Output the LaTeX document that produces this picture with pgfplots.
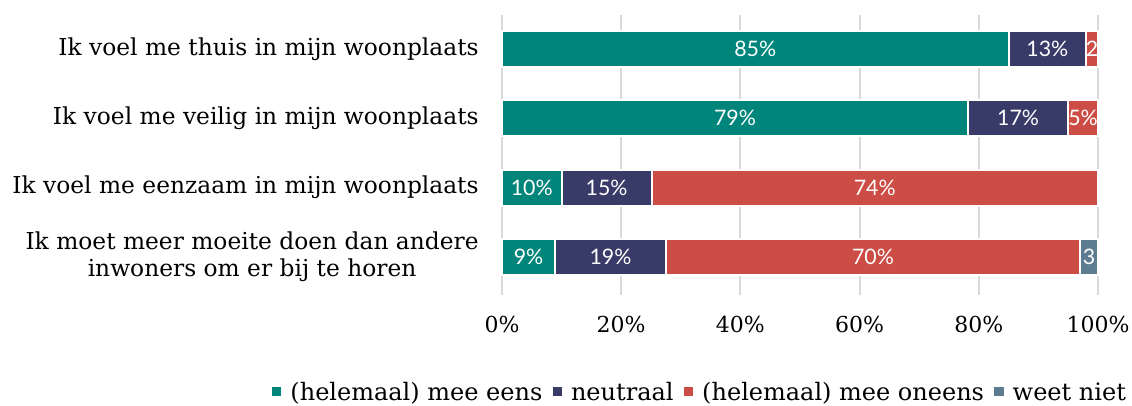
\documentclass[border=0pt]{standalone}
\usepackage{fontspec}
\setmainfont{DejaVu Serif}
\newfontfamily\labelfont{Lato}
\usepackage{pgfplots}
\pgfplotsset{compat=1.18}
\definecolor{cteal}{HTML}{00857A}
\definecolor{cnavy}{HTML}{383B68}
\definecolor{cred}{HTML}{CB4D45}
\definecolor{cslate}{HTML}{5E7C91}
\begin{document}
\begin{tikzpicture}
\useasboundingbox (-376.5pt,-82.5pt) rectangle (472.5pt,221.25pt);
\begin{axis}[
  scale only axis,
  width=447pt, height=210pt,
  xbar stacked,
  bar width=27pt,
  xmin=0, xmax=100,
  ymin=-0.49, ymax=3.55,
  y dir=reverse,
  ytick={0,1,2,3},
  yticklabels={Ik voel me thuis in mijn woonplaats,Ik voel me veilig in mijn woonplaats,Ik voel me eenzaam in mijn woonplaats,{Ik moet meer moeite doen dan andere\\inwoners om er bij te horen}},
  yticklabel style={align=center, font=\fontsize{17.5}{20.5}\selectfont, xshift=-14pt},
  xtick={0,20,40,60,80,100},
  xticklabel={\pgfmathprintnumber{\tick}\%},
  xticklabel style={font=\fontsize{16.5}{19}\selectfont, yshift=-12pt},
  /pgf/number format/assume math mode=true,
  major tick length=0pt,
  axis line style={draw=none},
  xmajorgrids,
  grid style={black!15, line width=1.5pt},
  point meta=explicit symbolic,
  nodes near coords,
  every node near coord/.append style={font=\labelfont\fontsize{16}{18}\selectfont, text=white, anchor=center},
  every axis plot/.append style={draw=white, line width=1.5pt},
  legend columns=4,
  legend style={at={(0.332,0)}, anchor=center, yshift=-73pt, draw=none, font=\fontsize{18}{21}\selectfont,
    /tikz/every even column/.append style={column sep=5pt}},
  legend image code/.code={\path (0pt,0pt) -- (11pt,0pt); \fill[#1,draw=none] (0pt,-3pt) rectangle (7pt,4pt);},
  clip=false,
]
\addplot[fill=cteal] coordinates {(85,0) [85\%] (78.2,1) [79\%] (10,2) [10\%] (8.9,3) [9\%]};
\addplot[fill=cnavy] coordinates {(13,0) [13\%] (16.8,1) [17\%] (15.1,2) [15\%] (18.6,3) [19\%]};
\addplot[fill=cred] coordinates {(2,0) [2] (5,1) [5\%] (74.9,2) [74\%] (69.5,3) [70\%]};
\addplot[fill=cslate] coordinates {(0,0) [] (0,1) [] (0,2) [] (3,3) [3]};
\legend{(helemaal) mee eens, neutraal, (helemaal) mee oneens, weet niet}
\end{axis}
\end{tikzpicture}
\end{document}
